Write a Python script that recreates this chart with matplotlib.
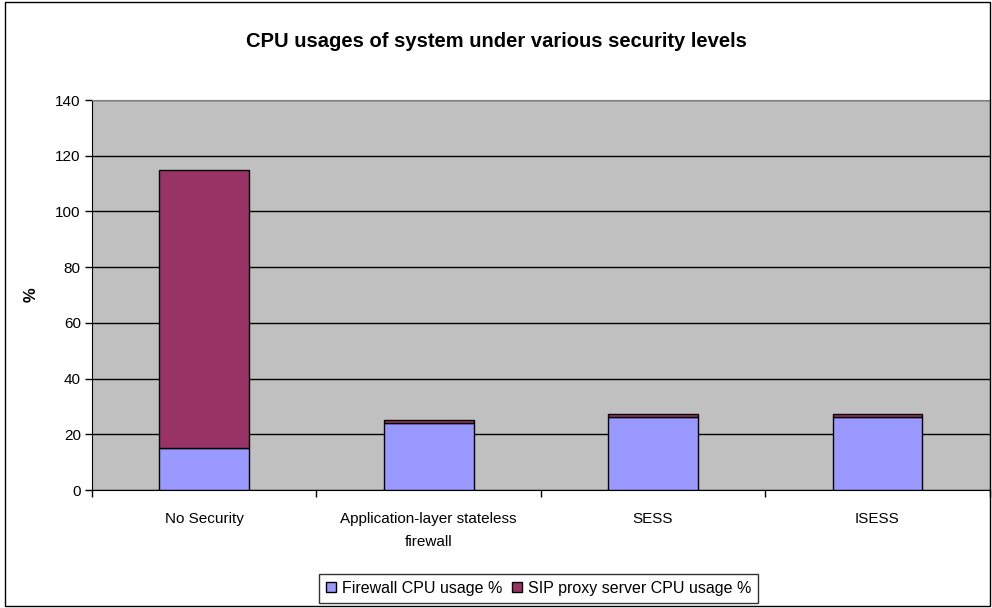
import matplotlib
matplotlib.use("Agg")
import matplotlib.pyplot as plt
from matplotlib.patches import Rectangle
import numpy as np

plt.rcParams['font.family'] = ['Liberation Sans', 'DejaVu Sans']

categories = ["No Security", "Application-layer stateless\nfirewall", "SESS", "ISESS"]
firewall_cpu = [15, 24, 26.3, 26.3]
sip_proxy_cpu = [100, 1, 1, 1]
y_ticks = [0, 20, 40, 60, 80, 100, 120, 140]

fig = plt.figure(figsize=(9.92, 6.08), dpi=100)
ax = fig.add_axes([0.0927, 0.194, 0.905, 0.6415])
ax.set_facecolor('#C0C0C0')

x = np.arange(len(categories))
ax.bar(x, firewall_cpu, width=0.4, color='#9999FF', edgecolor='black',
       linewidth=1, label='Firewall CPU usage %', zorder=3)
ax.bar(x, sip_proxy_cpu, width=0.4, bottom=firewall_cpu, color='#993366',
       edgecolor='black', linewidth=1, label='SIP proxy server CPU usage %', zorder=3)

ax.set_xlim(-0.5, len(categories) - 0.5)
ax.set_ylim(0, 140)
ax.set_yticks(y_ticks)
ax.yaxis.grid(True, color='black', linewidth=1)
ax.set_axisbelow(True)
ax.tick_params(axis='y', length=5, width=1, labelsize=11, direction='out', pad=3)

# Category labels sit between boundary tick marks
ax.set_xticks(x)
ax.set_xticklabels(categories, fontsize=11, linespacing=1.8)
ax.tick_params(axis='x', which='major', length=0, pad=16)
ax.set_xticks(np.arange(-0.5, len(categories)), minor=True)
ax.tick_params(axis='x', which='minor', length=5, width=1, direction='out')

for side in ['top', 'right']:
    ax.spines[side].set_color('#808080')
ax.spines['left'].set_color('black')
ax.spines['bottom'].set_color('black')

ax.set_ylabel('%', fontsize=12, fontweight='bold', labelpad=12)
fig.text(0.5, 0.931, 'CPU usages of system under various security levels',
         ha='center', va='center', fontsize=14.5, fontweight='bold')

leg = fig.legend(loc='center', bbox_to_anchor=(0.543, 0.032), ncol=2,
                 fontsize=11.5, frameon=True, fancybox=False, edgecolor='black',
                 handlelength=0.6, handleheight=0.6, handletextpad=0.4,
                 columnspacing=0.6, borderpad=0.45, borderaxespad=0)
leg.get_frame().set_linewidth(1)

# Outer chart border
fig.patches.append(Rectangle((0.005, 0.004), 0.993, 0.992, transform=fig.transFigure,
                             fill=False, edgecolor='black', linewidth=1))

fig.savefig('out.png', dpi=100)
